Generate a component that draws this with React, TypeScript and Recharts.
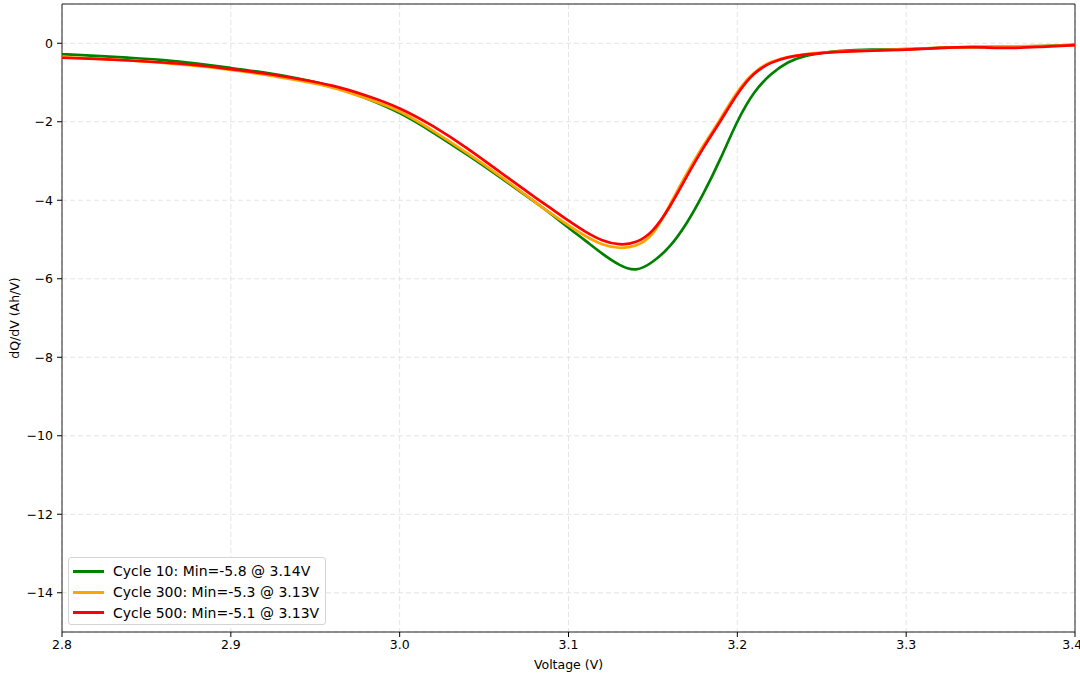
import React from "react";
import {
  LineChart,
  Line,
  XAxis,
  YAxis,
  CartesianGrid,
  ReferenceArea,
  Legend,
} from "recharts";

const voltage = [
  2.8, 2.82, 2.84, 2.86, 2.88, 2.9, 2.92, 2.94, 2.96, 2.98, 3.0, 3.02, 3.04, 3.06, 3.08,
  3.09, 3.1, 3.11, 3.12, 3.13, 3.14, 3.15, 3.16, 3.17, 3.18, 3.19, 3.2, 3.21, 3.22, 3.23,
  3.24, 3.25, 3.26, 3.28, 3.3, 3.32, 3.34, 3.36, 3.38, 3.4,
];

const cycle10 = [
  -0.28, -0.32, -0.37, -0.43, -0.52, -0.63, -0.75, -0.9, -1.1, -1.4, -1.78, -2.28, -2.84,
  -3.43, -4.04, -4.36, -4.7, -5.03, -5.36, -5.64, -5.76, -5.56, -5.17, -4.58, -3.82, -2.94,
  -2.0, -1.26, -0.79, -0.49, -0.33, -0.25, -0.2, -0.16, -0.15, -0.12, -0.1, -0.09, -0.07,
  -0.04,
];

const cycle300 = [
  -0.35, -0.39, -0.44, -0.5, -0.58, -0.68, -0.8, -0.95, -1.13, -1.4, -1.74, -2.24, -2.8,
  -3.4, -4.04, -4.35, -4.64, -4.91, -5.12, -5.21, -5.15, -4.84, -4.12, -3.32, -2.6, -1.92,
  -1.24, -0.75, -0.48, -0.35, -0.28, -0.24, -0.21, -0.18, -0.15, -0.12, -0.1, -0.08, -0.07,
  -0.05,
];

const cycle500 = [
  -0.37, -0.4, -0.44, -0.49, -0.56, -0.66, -0.77, -0.91, -1.08, -1.33, -1.66, -2.12, -2.68,
  -3.3, -3.92, -4.22, -4.52, -4.8, -5.02, -5.12, -5.06, -4.76, -4.16, -3.4, -2.66, -1.98,
  -1.3, -0.78, -0.5, -0.36, -0.29, -0.25, -0.22, -0.19, -0.16, -0.12, -0.1, -0.12, -0.09,
  -0.05,
];

const seriesNames = [
  "Cycle 10: Min=-5.8 @ 3.14V",
  "Cycle 300: Min=-5.3 @ 3.13V",
  "Cycle 500: Min=-5.1 @ 3.13V",
];
const seriesKeys = ["c10", "c300", "c500"];
const seriesColors = ["#008000", "#FFA500", "#FF0000"];

const xTicks = [2.8, 2.9, 3.0, 3.1, 3.2, 3.3, 3.4];
const yTicks = [-14, -12, -10, -8, -6, -4, -2, 0];
const xDomain = [2.8, 3.4];
const yDomain = [-15, 1];

const xLabel = "Voltage (V)";
const yLabel = "dQ/dV (Ah/V)";

const data = voltage.map((v, i) => ({
  v,
  c10: cycle10[i],
  c300: cycle300[i],
  c500: cycle500[i],
}));

const FONT = "'DejaVu Sans', sans-serif";

const LegendBox = () => (
  <div
    style={{
      width: 258,
      height: 68,
      boxSizing: "border-box",
      border: "1px solid #d4d4d4",
      borderRadius: 3,
      background: "rgba(255,255,255,0.85)",
      padding: "3px 4px",
      fontFamily: FONT,
      fontSize: 14,
      color: "#000",
    }}
  >
    {seriesNames.map((name, i) => (
      <div
        key={name}
        style={{ display: "flex", alignItems: "center", height: 20.7, whiteSpace: "nowrap" }}
      >
        <div
          style={{
            width: 31,
            height: 3,
            background: seriesColors[i],
            marginLeft: 0,
            marginRight: 9,
          }}
        />
        <span>{name}</span>
      </div>
    ))}
  </div>
);

const YLabel = (props: any) => {
  const vb = props.viewBox || { x: 0, y: 0, width: 0, height: 0 };
  const cx = vb.x + 14;
  const cy = vb.y + vb.height / 2;
  return (
    <text
      x={cx}
      y={cy}
      transform={`rotate(-90 ${cx} ${cy})`}
      textAnchor="middle"
      dominantBaseline="central"
      fontFamily={FONT}
      fontSize={12.5}
      fill="#000"
    >
      {yLabel}
    </text>
  );
};

const XLabel = (props: any) => {
  const vb = props.viewBox || { x: 0, y: 0, width: 0, height: 0 };
  const cx = vb.x + vb.width / 2;
  const cy = vb.y + 32;
  return (
    <text
      x={cx}
      y={cy}
      textAnchor="middle"
      dominantBaseline="central"
      fontFamily={FONT}
      fontSize={12.5}
      fill="#000"
    >
      {xLabel}
    </text>
  );
};

export default function App() {
  return (
    <div
      style={{
        position: "absolute",
        left: 0,
        top: 0,
        width: 1080,
        height: 680,
        background: "#fff",
        fontFamily: FONT,
      }}
    >
      <LineChart
        width={1080}
        height={680}
        data={data}
        margin={{ top: 4, right: 5, bottom: 0, left: 0 }}
      >
        <CartesianGrid stroke="#dedede" strokeDasharray="5 3" strokeWidth={0.8} />
        <XAxis
          dataKey="v"
          type="number"
          domain={xDomain}
          ticks={xTicks}
          allowDataOverflow
          height={48}
          axisLine={false}
          tickLine={{ stroke: "#000" }}
          tickSize={5}
          tickMargin={3}
          tick={{ fill: "#000", fontSize: 12.5, fontFamily: FONT }}
          tickFormatter={(v: number) => v.toFixed(1)}
          label={{ content: XLabel }}
        />
        <YAxis
          type="number"
          domain={yDomain}
          ticks={yTicks}
          allowDataOverflow
          width={62}
          axisLine={false}
          tickLine={{ stroke: "#000" }}
          tickSize={5}
          tickMargin={4}
          tick={{ fill: "#000", fontSize: 12.5, fontFamily: FONT }}
          tickFormatter={(v: number) => String(v).replace("-", "\u2212")}
          label={{ content: YLabel }}
        />
        {seriesKeys.map((k, i) => (
          <Line
            key={k}
            type="natural"
            dataKey={k}
            name={seriesNames[i]}
            stroke={seriesColors[i]}
            strokeWidth={2.7}
            dot={false}
            activeDot={false}
            isAnimationActive={false}
          />
        ))}
        <ReferenceArea
          x1={xDomain[0]}
          x2={xDomain[1]}
          y1={yDomain[0]}
          y2={yDomain[1]}
          fill="none"
          fillOpacity={0}
          stroke="#222"
          strokeWidth={1}
        />
        <Legend
          layout="vertical"
          align="center"
          verticalAlign="middle"
          content={LegendBox}
          wrapperStyle={{ left: 68, top: 557, width: "auto", height: "auto" }}
        />
      </LineChart>
    </div>
  );
}
